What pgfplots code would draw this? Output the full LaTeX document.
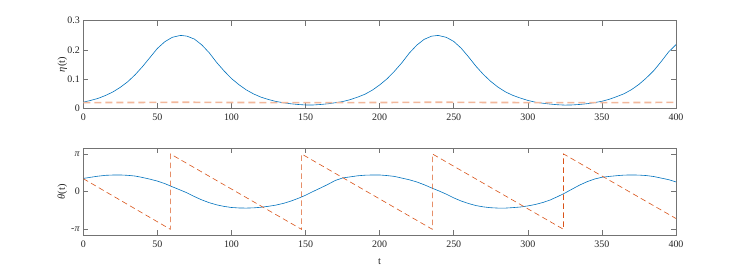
\documentclass[border=0pt]{standalone}
\usepackage{fontspec}
\setmainfont{Liberation Serif}
\usepackage{pgfplots}
\pgfplotsset{compat=1.18}
\definecolor{mblue}{RGB}{0,114,189}
\definecolor{morange}{RGB}{217,83,25}
\definecolor{mpeach}{RGB}{242,184,156}
\begin{document}
\begin{tikzpicture}
\useasboundingbox (0,0) rectangle (747bp,276bp);
\pgfplotsset{
 every axis/.append style={
  scale only axis, width=592.7bp,
  xmin=0, xmax=400, xtick={0,50,...,400},
  tick align=inside, major tick length=5bp,
  axis line style={black!55, line width=0.5bp},
  every tick/.style={black!55, line width=0.5bp},
  tick label style={font=\fontsize{10}{12}\selectfont, text=black!85},
  label style={font=\fontsize{10.5}{12}\selectfont, text=black!85},
  /pgf/number format/assume math mode=true,
  xticklabel style={yshift=-2.5bp},
  ylabel style={at={(axis description cs:-0.0354,0.5)}, anchor=center},
 }
}
\begin{axis}[at={(83.3bp,167.7bp)}, anchor=south west, height=87.6bp,
  ymin=0, ymax=0.3, ytick={0,0.1,0.2,0.3}, ylabel={\textit{η}(t)}]
\addplot[mblue, line width=0.6bp] coordinates {
(0,0.021)(5,0.027)(10,0.034)(15,0.044)(20,0.056)(25,0.072)(30,0.091)(35,0.115)(40,0.143)(45,0.174)
(50,0.205)(55,0.228)(60,0.243)(65,0.249)(66.2,0.2495)(70,0.247)(75,0.237)(80,0.217)(85,0.190)(90,0.157)
(95,0.128)(100,0.102)(105,0.081)(110,0.063)(115,0.049)(120,0.038)(125,0.030)(130,0.0235)(135,0.019)(140,0.0155)
(145,0.013)(150,0.0114)(155,0.0113)(160,0.0130)(165,0.0154)(170,0.019)(175,0.023)(180,0.0295)(185,0.038)(190,0.048)
(195,0.062)(200,0.080)(205,0.101)(210,0.127)(215,0.156)(220,0.189)(225,0.216)(230,0.236)(235,0.247)(239.3,0.2495)
(240,0.249)(245,0.243)(250,0.229)(255,0.206)(260,0.176)(265,0.144)(270,0.116)(275,0.092)(280,0.072)(285,0.056)
(290,0.044)(295,0.035)(300,0.027)(305,0.021)(310,0.0175)(315,0.0145)(320,0.0122)(325,0.011)(330,0.0115)(335,0.0132)
(340,0.0158)(345,0.0195)(350,0.024)(355,0.031)(360,0.040)(365,0.050)(370,0.064)(375,0.082)(380,0.104)(385,0.129)
(390,0.160)(395,0.193)(400,0.218)};
\addplot[mpeach, line width=1.6bp, dash pattern=on 7bp off 4bp] coordinates {
(0,0.0195)(40,0.0200)(66,0.0208)(95,0.0200)(150,0.0192)(200,0.0198)(239,0.0208)(270,0.0200)(325,0.0192)(370,0.0197)(400,0.0203)};
\end{axis}
\begin{axis}[at={(83.3bp,41bp)}, anchor=south west, height=86.7bp,
  ymin=-3.613, ymax=3.613, ytick={-3.14159,0,3.14159},
  yticklabels={-\textit{π},0,\textit{π}}, ylabel={\textit{θ}(t)},
  xlabel={t}, xlabel style={at={(axis description cs:0.5,-0.311)}, anchor=center}]
\addplot[mblue, line width=0.6bp] coordinates {
(0,1.10)(5,1.20)(10,1.29)(15,1.36)(20,1.385)(25,1.39)(30,1.36)(35,1.30)(40,1.18)(45,1.04)
(50,0.88)(55,0.67)(60,0.41)(65,0.16)(70,-0.10)(75,-0.41)(80,-0.69)(85,-0.92)(90,-1.10)(95,-1.23)
(100,-1.32)(105,-1.36)(110,-1.37)(115,-1.35)(120,-1.30)(125,-1.22)(130,-1.12)(135,-0.98)(140,-0.79)(145,-0.56)
(150,-0.30)(155,0.01)(160,0.30)(165,0.60)(170,0.93)(175,1.14)(180,1.23)(185,1.32)(190,1.37)(195,1.39)
(200,1.39)(205,1.34)(210,1.27)(215,1.13)(220,0.99)(225,0.81)(230,0.58)(235,0.31)(240,0.06)(245,-0.21)
(250,-0.52)(255,-0.78)(260,-0.99)(265,-1.16)(270,-1.27)(275,-1.34)(280,-1.37)(285,-1.37)(290,-1.33)(295,-1.28)
(300,-1.19)(305,-1.07)(310,-0.91)(315,-0.70)(320,-0.42)(325,-0.12)(330,0.22)(335,0.55)(340,0.83)(345,1.05)
(350,1.20)(355,1.27)(360,1.33)(365,1.38)(370,1.39)(375,1.38)(380,1.34)(385,1.26)(390,1.13)(395,1.00)(400,0.81)};
\addplot[morange, line width=0.6bp, dash pattern=on 5.5bp off 3.5bp] coordinates {
(0,1.08)(58.8,-3.1416)(58.8,3.1416)(147.3,-3.1416)(147.3,3.1416)(235.6,-3.1416)(235.6,3.1416)(324.1,-3.1416)(324.1,3.1416)(400,-2.24)};
\end{axis}
\end{tikzpicture}
\end{document}
